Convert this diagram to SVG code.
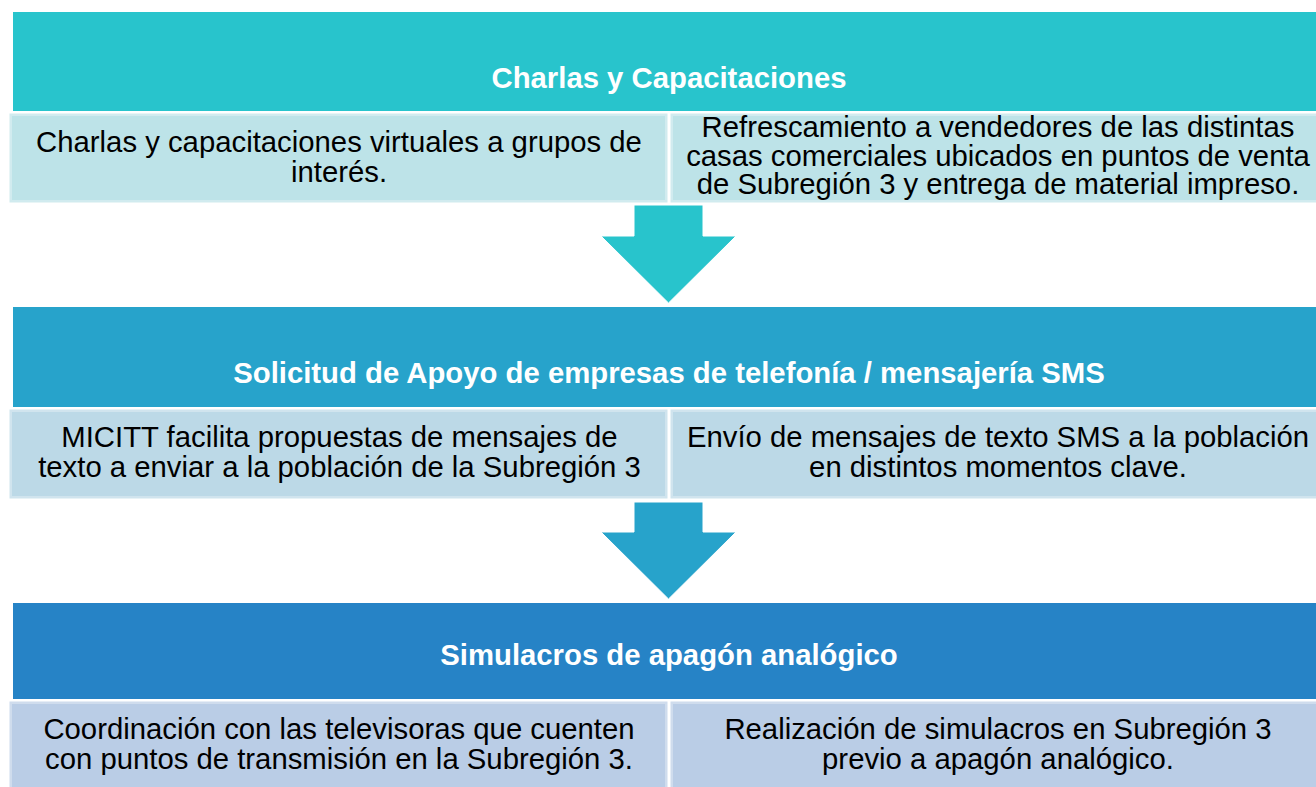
<svg xmlns="http://www.w3.org/2000/svg" width="1316" height="787" viewBox="0 0 1316 787">
<style>
.title{font-family:"Liberation Sans",Arial,sans-serif;font-size:29.3px;font-weight:bold;fill:#ffffff;text-anchor:middle}
.body{font-family:"Liberation Sans",Arial,sans-serif;font-size:29.3px;fill:#000000;text-anchor:middle}
.sub{stroke:#ffffff;stroke-opacity:0.3;stroke-width:5}
.c1{fill:#28C4CC}.c2{fill:#27A3CB}.c3{fill:#2683C6}
.s1{fill:#BDE3E8}.s2{fill:#BCD9E7}.s3{fill:#BACDE6}
.arrow{stroke:#ffffff;stroke-width:1}
</style>
<rect width="1316" height="787" fill="#ffffff"/>

<g id="node1">
<rect class="c1" x="13" y="12" width="1310" height="99"/>
<text class="title" x="669" y="88">Charlas y Capacitaciones</text>
</g>
<g id="node1a">
<rect class="sub s1" x="9.5" y="113.5" width="658" height="89"/>
<text class="body" x="339" y="152">Charlas y capacitaciones virtuales a grupos de</text>
<text class="body" x="339" y="181.5">interés.</text>
</g>
<g id="node1b">
<rect class="sub s1" x="670.5" y="113.5" width="660" height="89"/>
<text class="body" x="998" y="137">Refrescamiento a vendedores de las distintas</text>
<text class="body" x="998" y="165.5">casas comerciales ubicados en puntos de venta</text>
<text class="body" x="998" y="194">de Subregión 3 y entrega de material impreso.</text>
</g>

<g id="node2">
<rect class="c2" x="13" y="307" width="1310" height="100"/>
<text class="title" x="669" y="383">Solicitud de Apoyo de empresas de telefonía / mensajería SMS</text>
</g>
<g id="node2a">
<rect class="sub s2" x="9.5" y="409.5" width="658" height="89"/>
<text class="body" x="339.5" y="447">MICITT facilita propuestas de mensajes de</text>
<text class="body" x="339.5" y="477">texto a enviar a la población de la Subregión 3</text>
</g>
<g id="node2b">
<rect class="sub s2" x="670.5" y="409.5" width="660" height="89"/>
<text class="body" x="998" y="447">Envío de mensajes de texto SMS a la población</text>
<text class="body" x="998" y="477">en distintos momentos clave.</text>
</g>

<g id="node3">
<rect class="c3" x="13" y="603" width="1310" height="96"/>
<text class="title" x="669" y="665">Simulacros de apagón analógico</text>
</g>
<g id="node3a">
<rect class="sub s3" x="9.5" y="701.5" width="658" height="100"/>
<text class="body" x="339" y="739">Coordinación con las televisoras que cuenten</text>
<text class="body" x="339" y="769">con puntos de transmisión en la Subregión 3.</text>
</g>
<g id="node3b">
<rect class="sub s3" x="670.5" y="701.5" width="660" height="100"/>
<text class="body" x="998" y="739">Realización de simulacros en Subregión 3</text>
<text class="body" x="998" y="769">previo a apagón analógico.</text>
</g>

<g id="connectors">
<polygon class="arrow c1" points="634,205 703,205 703,236 736,236 668.5,303 601,236 634,236"/>
<polygon class="arrow c2" points="634,502 703,502 703,532 736,532 668.5,599 601,532 634,532"/>
</g>
</svg>
